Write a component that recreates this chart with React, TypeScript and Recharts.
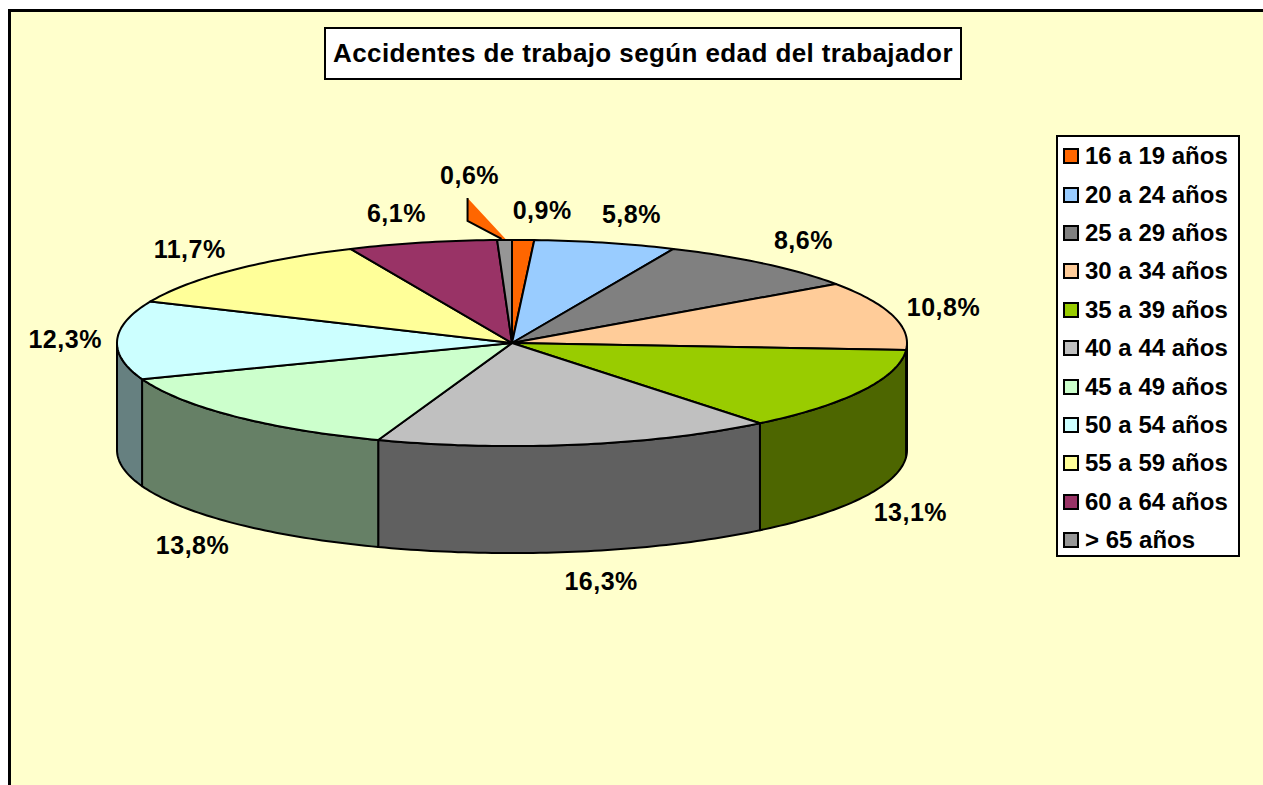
import React from "react";
import { PieChart, Pie, Cell, Legend } from "recharts";

const TITLE = "Accidentes de trabajo según edad del trabajador";

const AGE_GROUPS = [
  "16 a 19 años",
  "20 a 24 años",
  "25 a 29 años",
  "30 a 34 años",
  "35 a 39 años",
  "40 a 44 años",
  "45 a 49 años",
  "50 a 54 años",
  "55 a 59 años",
  "60 a 64 años",
  "> 65 años",
];

const SHARES = [0.9, 5.8, 8.6, 10.8, 13.1, 16.3, 13.8, 12.3, 11.7, 6.1, 0.6];

const COLORS = [
  "#FF6600", "#99CCFF", "#808080", "#FFCC99", "#99CC00", "#C0C0C0",
  "#CCFFCC", "#CCFFFF", "#FFFF99", "#993366", "#969696",
];

const chartData = AGE_GROUPS.map((name, i) => ({ name, value: SHARES[i] }));

// 3d look: flattened ellipse + extruded front side
const TILT = 0.261;
const DEPTH = 107;
const FONT = "'Liberation Sans', Arial, sans-serif";

const darken = (hex: string) => {
  const n = parseInt(hex.slice(1), 16);
  const r = Math.round(((n >> 16) & 255) * 0.5);
  const g = Math.round(((n >> 8) & 255) * 0.5);
  const b = Math.round((n & 255) * 0.5);
  return `rgb(${r},${g},${b})`;
};

const pt = (cx: number, cy: number, rx: number, a: number, dy = 0) => {
  const rad = (a * Math.PI) / 180;
  return [cx + rx * Math.cos(rad), cy - rx * TILT * Math.sin(rad) + dy];
};

const arcPoints = (cx: number, cy: number, rx: number, from: number, to: number, dy = 0) => {
  const pts: number[][] = [];
  const steps = Math.max(2, Math.ceil(Math.abs(from - to)));
  for (let k = 0; k <= steps; k++) {
    pts.push(pt(cx, cy, rx, from + ((to - from) * k) / steps, dy));
  }
  return pts;
};

const toPath = (pts: number[][]) =>
  pts.map((p, i) => `${i === 0 ? "M" : "L"}${p[0].toFixed(2)},${p[1].toFixed(2)}`).join(" ");

const Slice3D = (props: any) => {
  const { cx, cy, outerRadius, startAngle, endAngle, fill } = props;
  const hi = Math.min(startAngle, 0);
  const lo = Math.max(endAngle, -180);
  let side = null;
  if (hi > lo) {
    const topArc = arcPoints(cx, cy, outerRadius, hi, lo);
    const botArc = arcPoints(cx, cy, outerRadius, lo, hi, DEPTH);
    side = (
      <path
        d={toPath([...topArc, ...botArc]) + " Z"}
        fill={darken(fill)}
        stroke="#000"
        strokeWidth={2}
        strokeLinejoin="round"
      />
    );
  }
  const top = toPath([[cx, cy], ...arcPoints(cx, cy, outerRadius, startAngle, endAngle)]) + " Z";
  return (
    <g>
      {side}
      <path d={top} fill={fill} stroke="#000" strokeWidth={2} strokeLinejoin="round" />
    </g>
  );
};

const renderLabel = (props: any) => {
  const { cx, cy, outerRadius, midAngle, value, index } = props;
  const text = `${Number(value).toFixed(1).replace(".", ",")}%`;
  const style = { fontFamily: FONT, fontWeight: 700, fontSize: 25, letterSpacing: 0.5 } as const;
  const [px, py] = pt(cx, cy, outerRadius, midAngle);
  if (value < 0.8) {
    // tiny slice: label pulled out with a wedge-shaped leader
    const leader = [
      [px - 37, py - 42],
      [px - 37, py - 19],
      [px - 3, py - 1],
      [px + 1, py - 1],
    ];
    return (
      <g key={`lbl-${index}`}>
        <path d={toPath(leader) + " Z"} fill={COLORS[(index + 1) % COLORS.length]} stroke="none" />
        <path d={toPath(leader.slice(0, 3))} fill="none" stroke="#000" strokeWidth={2} />
        <text x={px - 35} y={py - 65} textAnchor="middle" dominantBaseline="central" fill="#000" style={style}>
          {text}
        </text>
      </g>
    );
  }
  const rad = (midAngle * Math.PI) / 180;
  const c = Math.cos(rad);
  const s = Math.sin(rad);
  const x = px + Math.sign(c) * 18 + 34 * c;
  const y = py - 30 * s + (s < 0 ? DEPTH : 0);
  return (
    <text key={`lbl-${index}`} x={x} y={y} textAnchor="middle" dominantBaseline="central" fill="#000" style={style}>
      {text}
    </text>
  );
};

const LegendBox = (props: any) => {
  const items = props.payload || [];
  return (
    <div
      style={{
        width: 184,
        height: 422,
        boxSizing: "border-box",
        background: "#fff",
        border: "2px solid #000",
        fontFamily: FONT,
        fontWeight: 700,
        fontSize: 24,
        color: "#000",
      }}
    >
      {items.map((item: any, i: number) => (
        <div key={i} style={{ display: "flex", alignItems: "center", height: 38.4, paddingLeft: 5, whiteSpace: "nowrap" }}>
          <span
            style={{
              display: "inline-block",
              width: 12,
              height: 12,
              background: item.color,
              border: "2px solid #000",
              marginRight: 6,
            }}
          />
          <span>{item.value}</span>
        </div>
      ))}
    </div>
  );
};

export default function App() {
  return (
    <div style={{ position: "absolute", left: 0, top: 0, width: 1263, height: 785, overflow: "hidden", background: "#fff" }}>
      <div
        style={{
          position: "absolute",
          left: 8,
          top: 9,
          width: 1300,
          height: 800,
          background: "#FFFFCC",
          borderLeft: "3px solid #000",
          borderTop: "3px solid #000",
        }}
      />
      <div
        style={{
          position: "absolute",
          left: 324,
          top: 27,
          width: 638,
          height: 53,
          boxSizing: "border-box",
          background: "#fff",
          border: "2px solid #000",
          display: "flex",
          alignItems: "center",
          justifyContent: "center",
          fontFamily: FONT,
          fontWeight: 700,
          fontSize: 26,
          letterSpacing: 0.4,
          color: "#000",
          whiteSpace: "nowrap",
        }}
      >
        {TITLE}
      </div>
      <div style={{ position: "absolute", left: 0, top: 0 }}>
        <PieChart width={1263} height={785} margin={{ top: 0, right: 0, bottom: 0, left: 0 }}>
          <Pie
            data={chartData}
            dataKey="value"
            nameKey="name"
            cx={512}
            cy={343}
            outerRadius={395}
            startAngle={90}
            endAngle={-270}
            stroke="#000"
            isAnimationActive={false}
            shape={Slice3D}
            label={renderLabel}
            labelLine={false}
          >
            {chartData.map((_, i) => (
              <Cell key={`cell-${i}`} fill={COLORS[i]} />
            ))}
          </Pie>
          <Legend
            layout="vertical"
            align="right"
            verticalAlign="middle"
            content={<LegendBox />}
            wrapperStyle={{ position: "absolute", left: 1056, top: 135, width: 184 }}
          />
        </PieChart>
      </div>
    </div>
  );
}
